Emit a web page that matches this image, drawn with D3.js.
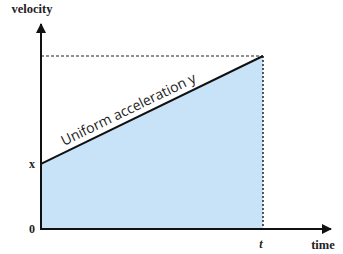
<!doctype html>
<html>
  <head>
    <script src="https://d3js.org/d3.v7.min.js"></script>
    <style>
      body { margin: 0; background: #fff; }
      .lbl { font-family: "Liberation Serif", serif; font-weight: bold; fill: #222; }
    </style>
  </head>
  <body>
    <svg width="343" height="254"></svg>
    <script>
      // values (time normalised so t = 1, top velocity = 1)
      var times = [0, 1];
      var velocities = [0.376, 1];
      var yTicks = [0, 0.376];
      var yTickLabels = ["0", "x"];
      var xTicks = [1];
      var xTickLabels = ["t"];

      var svg = d3.select("svg");
      var x0 = 41, x1 = 263, yBase = 229, yTop = 56;

      var xScale = d3.scaleLinear().domain([0, 1]).range([x0, x1]);
      var yScale = d3.scaleLinear().domain([0, 1]).range([yBase, yTop]);

      var pts = times.map(function(t, i) { return [t, velocities[i]]; });

      // shaded area under the line
      svg.append("path")
        .datum(pts)
        .attr("fill", "#c8e3f8")
        .attr("d", d3.area()
          .x(function(d) { return xScale(d[0]); })
          .y0(yScale(0))
          .y1(function(d) { return yScale(d[1]); }));

      // dashed guide lines
      var last = pts[pts.length - 1];
      svg.append("line")
        .attr("x1", x0).attr("x2", xScale(last[0]))
        .attr("y1", yScale(last[1])).attr("y2", yScale(last[1]))
        .attr("stroke", "#222").attr("stroke-width", 1.2).attr("stroke-dasharray", "3,2");
      svg.append("line")
        .attr("x1", xScale(last[0])).attr("x2", xScale(last[0]))
        .attr("y1", yScale(last[1])).attr("y2", yScale(0))
        .attr("stroke", "#222").attr("stroke-width", 1.5).attr("stroke-dasharray", "2,2");

      // the velocity line
      svg.append("path")
        .datum(pts)
        .attr("fill", "none")
        .attr("stroke", "#111")
        .attr("stroke-width", 2)
        .attr("d", d3.line()
          .x(function(d) { return xScale(d[0]); })
          .y(function(d) { return yScale(d[1]); }));

      // label along the line
      var ang = Math.atan2(yScale(pts[1][1]) - yScale(pts[0][1]), xScale(pts[1][0]) - xScale(pts[0][0])) * 180 / Math.PI;
      svg.append("text")
        .attr("transform", "translate(" + 64 + "," + 146 + ") rotate(" + ang + ")")
        .attr("font-family", "Open Sans, sans-serif")
        .attr("font-size", 14)
        .attr("fill", "#222")
        .text("Uniform acceleration y");

      // arrow head
      svg.append("defs").append("marker")
        .attr("id", "arr").attr("viewBox", "0 0 10 10")
        .attr("refX", 9).attr("refY", 5)
        .attr("markerWidth", 5).attr("markerHeight", 5)
        .attr("orient", "auto")
        .append("path").attr("d", "M0,0L10,5L0,10z").attr("fill", "#111");

      // axes
      svg.append("line")
        .attr("x1", x0).attr("x2", x0).attr("y1", yBase + 1).attr("y2", 24)
        .attr("stroke", "#111").attr("stroke-width", 2).attr("marker-end", "url(#arr)");
      svg.append("line")
        .attr("x1", x0 - 1).attr("x2", 331).attr("y1", yBase).attr("y2", yBase)
        .attr("stroke", "#111").attr("stroke-width", 2).attr("marker-end", "url(#arr)");

      // tick labels
      svg.selectAll(".ylab").data(yTicks).enter().append("text")
        .attr("class", "lbl")
        .attr("x", 35).attr("y", function(d) { return yScale(d) + 4; })
        .attr("text-anchor", "end").attr("font-size", 12)
        .text(function(d, i) { return yTickLabels[i]; });
      svg.selectAll(".xlab").data(xTicks).enter().append("text")
        .attr("class", "lbl")
        .attr("x", function(d) { return xScale(d) - 2; }).attr("y", 248)
        .attr("text-anchor", "middle").attr("font-size", 12).attr("font-style", "italic")
        .text(function(d, i) { return xTickLabels[i]; });

      // axis titles
      svg.append("text").attr("class", "lbl")
        .attr("x", 32).attr("y", 13).attr("text-anchor", "middle").attr("font-size", 12.5)
        .text("velocity");
      svg.append("text").attr("class", "lbl")
        .attr("x", 323).attr("y", 249).attr("text-anchor", "middle").attr("font-size", 12.5)
        .text("time");
    </script>
  </body>
</html>
